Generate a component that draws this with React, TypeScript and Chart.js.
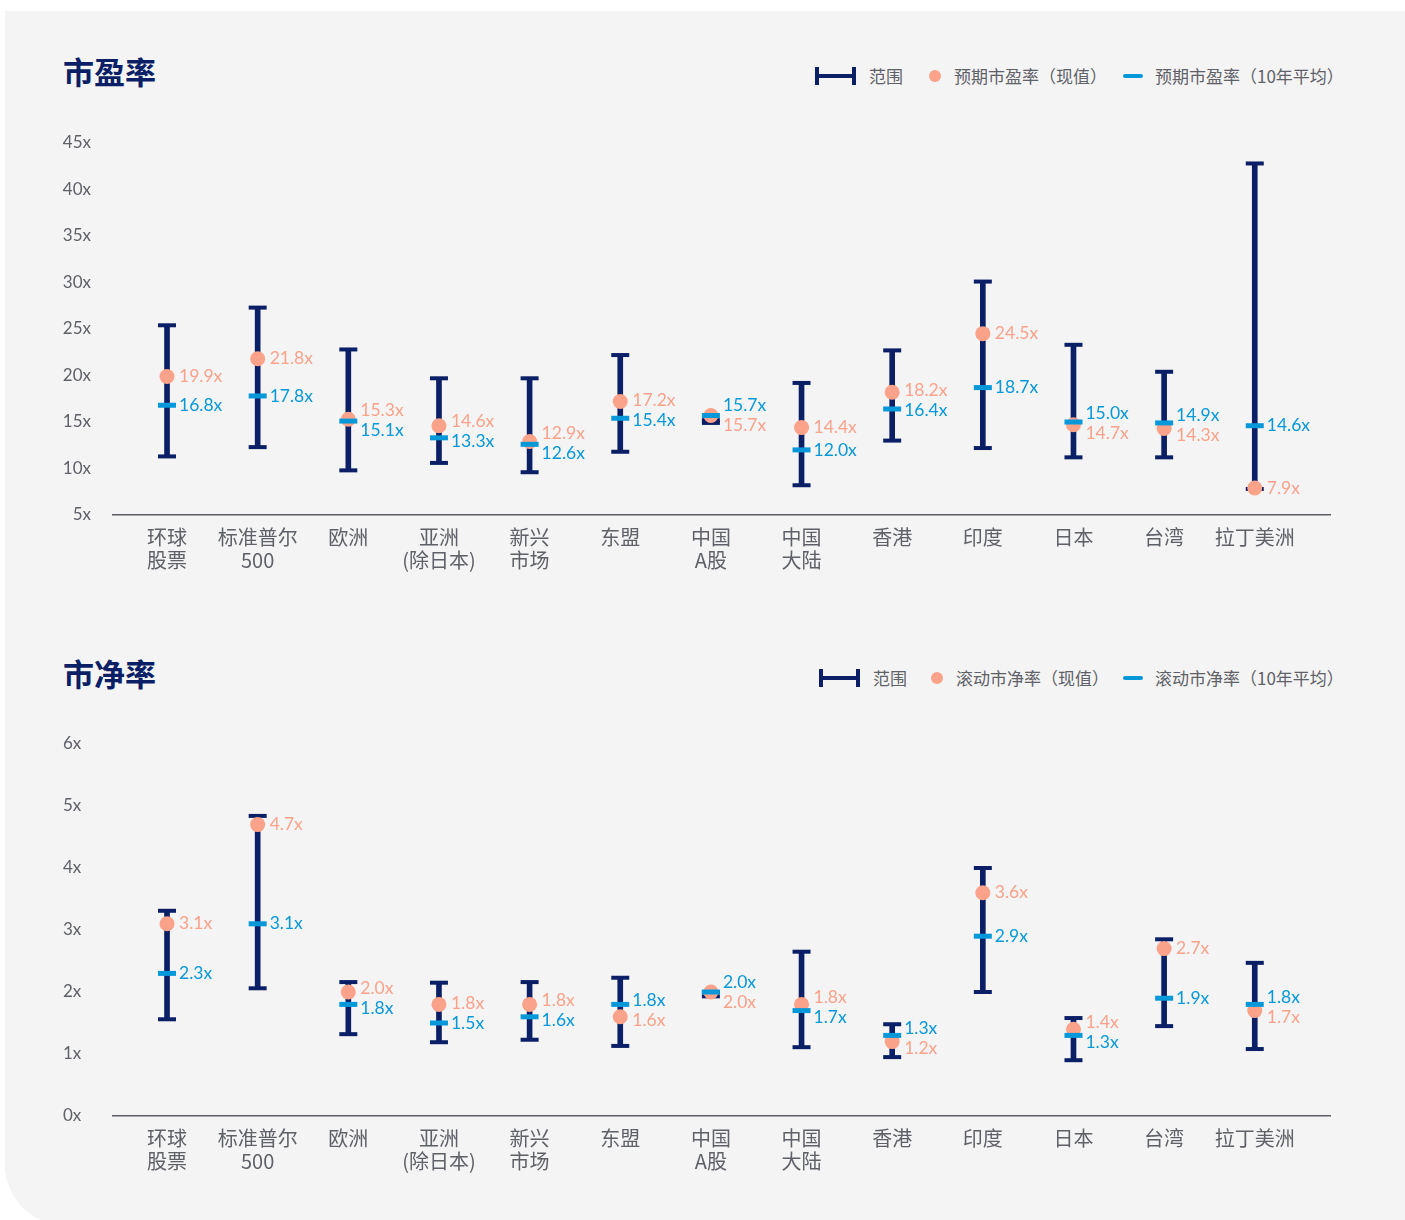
import React, { useEffect, useRef } from 'react';
import { Chart, registerables } from 'chart.js';

Chart.register(...registerables);

// ---------- data ----------
const categories: string[][] = [
  ['环球', '股票'],
  ['标准普尔', '500'],
  ['欧洲'],
  ['亚洲', '(除日本)'],
  ['新兴', '市场'],
  ['东盟'],
  ['中国', 'A股'],
  ['中国', '大陆'],
  ['香港'],
  ['印度'],
  ['日本'],
  ['台湾'],
  ['拉丁美洲'],
];

// 市盈率 (forward P/E)
const peLow = [11.3, 12.3, 9.8, 10.6, 9.6, 11.8, 14.9, 8.2, 13.0, 12.2, 11.2, 11.2, 7.8];
const peHigh = [25.4, 27.3, 22.8, 19.7, 19.7, 22.2, 15.2, 19.2, 22.7, 30.1, 23.3, 20.4, 42.8];
const peCurrent = [19.9, 21.8, 15.3, 14.6, 12.9, 17.2, 15.7, 14.4, 18.2, 24.5, 14.7, 14.3, 7.9];
const peAverage = [16.8, 17.8, 15.1, 13.3, 12.6, 15.4, 15.7, 12.0, 16.4, 18.7, 15.0, 14.9, 14.6];

// 市净率 (trailing P/B)
const pbLow = [1.56, 2.06, 1.32, 1.19, 1.23, 1.13, 1.93, 1.11, 0.95, 2.0, 0.9, 1.45, 1.08];
const pbHigh = [3.31, 4.84, 2.16, 2.15, 2.16, 2.23, 2.0, 2.65, 1.48, 4.0, 1.58, 2.85, 2.47];
const pbCurrent = [3.1, 4.7, 2.0, 1.8, 1.8, 1.6, 2.0, 1.8, 1.2, 3.6, 1.4, 2.7, 1.7];
const pbAverage = [2.3, 3.1, 1.8, 1.5, 1.6, 1.8, 2.0, 1.7, 1.3, 2.9, 1.3, 1.9, 1.8];

const peAxis = { min: 5, max: 45, step: 5 };
const pbAxis = { min: 0, max: 6, step: 1 };

// ---------- styles ----------
const NAVY = '#0a1f66';
const SALMON = '#fba28a';
const BLUE = '#0798da';
const GREY_TEXT = '#5f6168';
const PANEL = '#f4f4f4';
const CJK = '"Noto Sans CJK SC", "Noto Sans", sans-serif';
const NUM = 'Lato, "Noto Sans", sans-serif';

type ChartProps = {
  top: number;
  low: number[];
  high: number[];
  current: number[];
  average: number[];
  axis: { min: number; max: number; step: number };
  labelsLeft: boolean;
};

function RangeChart({ top, low, high, current, average, axis, labelsLeft }: ChartProps) {
  const ref = useRef<HTMLCanvasElement | null>(null);

  useEffect(() => {
    if (!ref.current) return;

    const valueLabels = {
      id: 'valueLabels',
      afterDatasetsDraw(chart: any) {
        const ctx = chart.ctx;
        const xs = chart.scales.x;
        const ys = chart.scales.y;
        ctx.save();
        ctx.font = `17.5px ${NUM}`;
        ctx.textAlign = 'left';
        ctx.textBaseline = 'middle';
        for (let i = 0; i < categories.length; i++) {
          const x = xs.getPixelForValue(i) + 12;
          let yc = ys.getPixelForValue(current[i]);
          let ya = ys.getPixelForValue(average[i]);
          if (Math.abs(yc - ya) < 20) {
            const mid = (yc + ya) / 2;
            if (current[i] > average[i]) {
              yc = mid - 10;
              ya = mid + 10;
            } else {
              ya = mid - 10;
              yc = mid + 10;
            }
          }
          ctx.fillStyle = SALMON;
          ctx.fillText(current[i].toFixed(1) + 'x', x, yc);
          ctx.fillStyle = BLUE;
          ctx.fillText(average[i].toFixed(1) + 'x', x, ya);
        }
        ctx.restore();
      },
    };

    const leftPad = labelsLeft ? 63 : 0;

    const chart = new Chart(ref.current, {
      type: 'bar',
      data: {
        datasets: [
          {
            type: 'scatter',
            label: 'avg',
            data: categories.map((_, i) => ({ x: i, y: average[i] })),
            pointStyle: 'line',
            pointRadius: 9,
            borderWidth: 5,
            borderColor: BLUE,
            backgroundColor: BLUE,
            order: 1,
          } as any,
          {
            type: 'scatter',
            label: 'current',
            data: categories.map((_, i) => ({ x: i, y: current[i] })),
            pointStyle: 'circle',
            pointRadius: 7.5,
            borderWidth: 0,
            backgroundColor: SALMON,
            borderColor: SALMON,
            order: 2,
          } as any,
          {
            type: 'scatter',
            label: 'caps',
            data: categories.flatMap((_, i) => [
              { x: i, y: low[i] },
              { x: i, y: high[i] },
            ]),
            pointStyle: 'line',
            pointRadius: 9,
            borderWidth: 4,
            borderColor: NAVY,
            backgroundColor: NAVY,
            order: 3,
          } as any,
          {
            type: 'bar',
            label: 'range',
            data: categories.map((_, i) => ({ x: i, y: [low[i], high[i]] })),
            backgroundColor: NAVY,
            barThickness: 5,
            borderWidth: 0,
            order: 4,
          } as any,
        ],
      },
      options: {
        responsive: false,
        animation: false,
        events: [],
        layout: { padding: { top: 43, right: 75, bottom: 0, left: leftPad } },
        plugins: {
          legend: { display: false },
          tooltip: { enabled: false },
          title: { display: false },
        },
        scales: {
          x: {
            type: 'linear',
            min: -0.596,
            max: 12.83,
            offset: false,
            afterBuildTicks: (scale: any) => {
              scale.ticks = categories.map((_, i) => ({ value: i }));
            },
            afterFit: (scale: any) => {
              scale.height = 85;
            },
            ticks: {
              autoSkip: false,
              maxRotation: 0,
              minRotation: 0,
              padding: 11,
              color: GREY_TEXT,
              font: { family: CJK, size: 20, lineHeight: 1.15 },
              callback: (v: any) => categories[v as number],
            },
            grid: { display: false, drawTicks: false },
            border: { display: true, color: '#5b5e67', width: 1.5 },
          },
          y: {
            type: 'linear',
            min: axis.min,
            max: axis.max,
            afterFit: (scale: any) => {
              scale.width = 113 - leftPad;
            },
            ticks: {
              stepSize: axis.step,
              padding: 22,
              crossAlign: labelsLeft ? 'far' : 'near',
              color: GREY_TEXT,
              font: { family: NUM, size: 17 },
              callback: (v: any) => `${v}x`,
            },
            grid: { display: false, drawTicks: false },
            border: { display: false },
          },
        },
      } as any,
      plugins: [valueLabels],
    });

    return () => chart.destroy();
  }, []);

  return (
    <canvas
      ref={ref}
      width={1405}
      height={500}
      style={{ position: 'absolute', left: 0, top, width: 1405, height: 500 }}
    />
  );
}

type LegendProps = {
  y: number;
  iconX: number;
  rangeTextX: number;
  dotX: number;
  currentText: string;
  currentTextX: number;
  dashX: number;
  avgText: string;
  avgTextX: number;
};

function Legend(p: LegendProps) {
  const text = (x: number, t: string) => (
    <span
      style={{
        position: 'absolute',
        left: x,
        top: p.y - 12,
        lineHeight: '24px',
        fontSize: 17,
        fontFamily: CJK,
        color: GREY_TEXT,
        whiteSpace: 'nowrap',
      }}
    >
      {t}
    </span>
  );
  return (
    <>
      <div style={{ position: 'absolute', left: p.iconX, top: p.y - 2, width: 41, height: 4, background: NAVY }} />
      <div style={{ position: 'absolute', left: p.iconX, top: p.y - 9, width: 4, height: 18, background: NAVY }} />
      <div style={{ position: 'absolute', left: p.iconX + 37, top: p.y - 9, width: 4, height: 18, background: NAVY }} />
      {text(p.rangeTextX, '范围')}
      <div
        style={{
          position: 'absolute',
          left: p.dotX - 6,
          top: p.y - 6,
          width: 12,
          height: 12,
          borderRadius: 6,
          background: SALMON,
        }}
      />
      {text(p.currentTextX, p.currentText)}
      <div
        style={{ position: 'absolute', left: p.dashX, top: p.y - 2, width: 20, height: 4, borderRadius: 2, background: BLUE }}
      />
      {text(p.avgTextX, p.avgText)}
    </>
  );
}

function Title({ y, text }: { y: number; text: string }) {
  return (
    <div
      style={{
        position: 'absolute',
        left: 63,
        top: y - 20,
        lineHeight: '36px',
        fontSize: 31,
        fontWeight: 700,
        fontFamily: CJK,
        color: NAVY,
        whiteSpace: 'nowrap',
      }}
    >
      {text}
    </div>
  );
}

export default function App() {
  return (
    <div
      style={{
        position: 'fixed',
        left: 0,
        top: 0,
        width: 1405,
        height: 1220,
        background: '#ffffff',
        overflow: 'hidden',
      }}
    >
      <div
        style={{
          position: 'absolute',
          left: 5,
          top: 11,
          width: 1440,
          height: 1214,
          background: PANEL,
          borderBottomLeftRadius: 60,
        }}
      />
      <Title y={73} text="市盈率" />
      <Legend
        y={76}
        iconX={815}
        rangeTextX={869}
        dotX={935}
        currentText="预期市盈率（现值）"
        currentTextX={954}
        dashX={1123}
        avgText="预期市盈率（10年平均）"
        avgTextX={1155}
      />
      <RangeChart
        top={100}
        low={peLow}
        high={peHigh}
        current={peCurrent}
        average={peAverage}
        axis={peAxis}
        labelsLeft={false}
      />

      <Title y={675} text="市净率" />
      <Legend
        y={678}
        iconX={819}
        rangeTextX={873}
        dotX={937}
        currentText="滚动市净率（现值）"
        currentTextX={956}
        dashX={1123}
        avgText="滚动市净率（10年平均）"
        avgTextX={1155}
      />
      <RangeChart
        top={701}
        low={pbLow}
        high={pbHigh}
        current={pbCurrent}
        average={pbAverage}
        axis={pbAxis}
        labelsLeft={true}
      />
    </div>
  );
}
